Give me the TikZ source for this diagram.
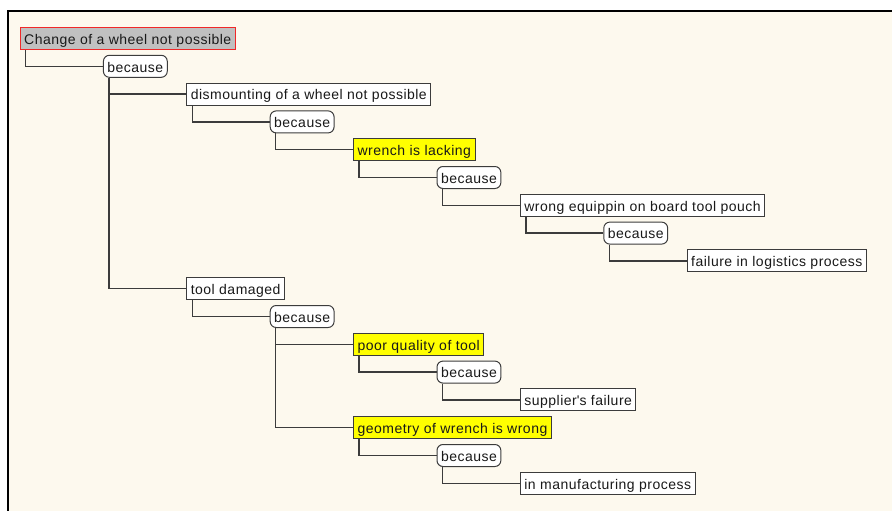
\documentclass[tikz,border=0pt]{standalone}
\usepackage{fontspec}
\setmainfont{Liberation Sans}[LetterSpace=3.5]
\definecolor{paper}{RGB}{253,249,238}
\definecolor{linegray}{RGB}{60,60,60}
\definecolor{rootred}{RGB}{240,40,40}
\definecolor{rootgray}{RGB}{192,192,192}
\definecolor{hilite}{RGB}{255,255,0}
\tikzset{
	box_style/.style={draw=linegray, fill=white, line width=1pt, anchor=west, inner xsep=4pt, inner ysep=0pt,
		minimum height=22pt, text height=11.5pt, text depth=0pt, text=black!90, font=\fontsize{14}{16}\selectfont},
	because_style/.style={box_style, rounded corners=6pt},
	hilite_style/.style={box_style, fill=hilite},
	root_style/.style={box_style, fill=rootgray, draw=rootred, line width=1.4pt},
	link_style/.style={draw=linegray, line width=1.5pt}
}
\begin{document}
\begin{tikzpicture}[x=1pt,y=-1pt]
	\useasboundingbox (0,0) rectangle (892,511);
	\fill[white] (0,0) rectangle (892,511);
	\fill[paper] (7.5,11.5) rectangle (892,511);
	\draw[line width=2pt] (7.5,511) -- (7.5,11.5) -- (892,11.5);
	%%% nodes: level/row/name/style/text
	\foreach \lvl/\row/\nm/\kind/\txt in {
		0/0/root/root_style/Change of a wheel not possible,
		1/1/b1/because_style/because,
		2/2/dism/box_style/dismounting of a wheel not possible,
		3/3/b2/because_style/because,
		4/4/wrench/hilite_style/wrench is lacking,
		5/5/b3/because_style/because,
		6/6/equip/box_style/wrong equippin on board tool pouch,
		7/7/b4/because_style/because,
		8/8/logist/box_style/failure in logistics process,
		2/9/tool/box_style/tool damaged,
		3/10/b5/because_style/because,
		4/11/poor/hilite_style/poor quality of tool,
		5/12/b6/because_style/because,
		6/13/suppl/box_style/supplier\textquotesingle s failure,
		4/14/geom/hilite_style/geometry of wrench is wrong,
		5/15/b7/because_style/because,
		6/16/manuf/box_style/in manufacturing process}{
		\path ({19.5+83.4*\lvl},{38.5+27.8*\row}) node[style=\kind] (\nm) {\txt};
	}
	%%% connectors
	\foreach \a/\b in {root/b1,b1/dism,dism/b2,b2/wrench,wrench/b3,b3/equip,equip/b4,b4/logist,
		b1/tool,tool/b5,b5/poor,poor/b6,b6/suppl,b5/geom,geom/b7,b7/manuf}{
		\draw[link_style] ([xshift=6pt]\a.south west) |- (\b.west);
	}
\end{tikzpicture}
\end{document}
